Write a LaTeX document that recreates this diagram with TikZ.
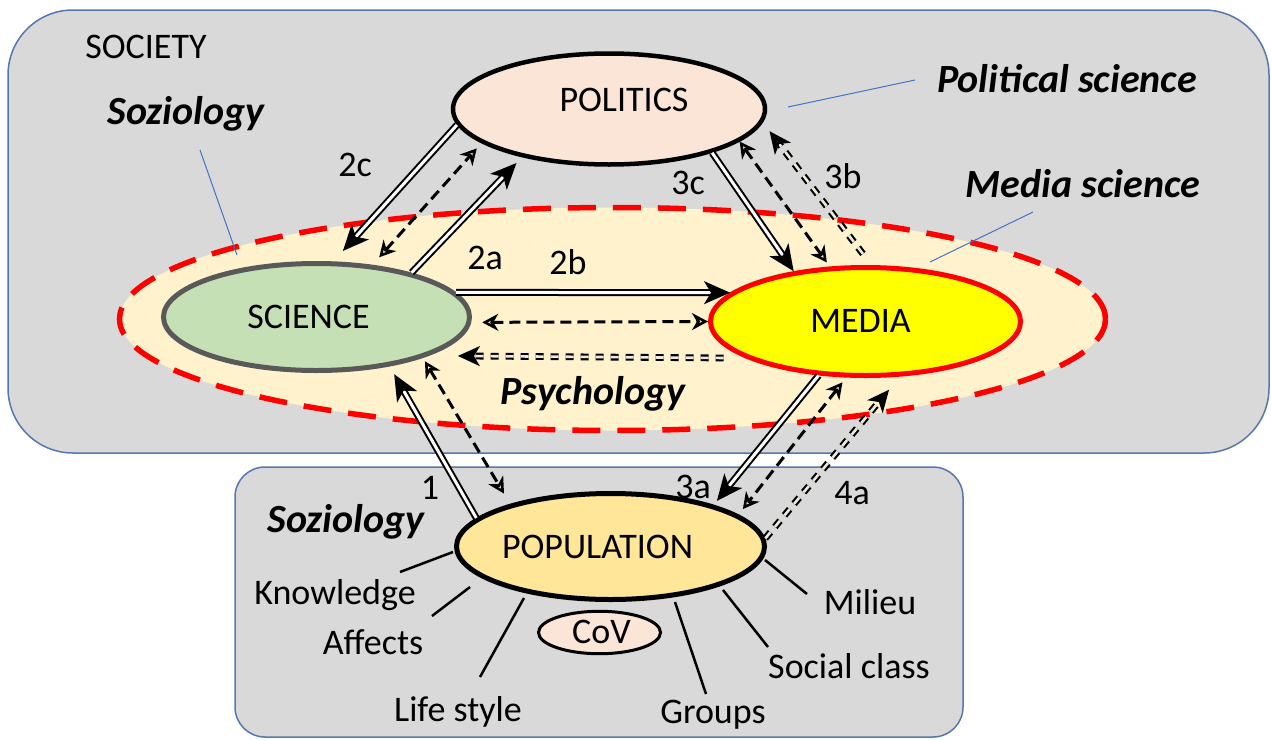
\documentclass[tikz,border=0pt]{standalone}
\usepackage{fontspec}
\setmainfont{Carlito}
\usetikzlibrary{shapes.geometric,arrows.meta}

\definecolor{boxgray}{HTML}{D9D9D9}
\definecolor{boxblue}{HTML}{5577B0}
\definecolor{zonefill}{HTML}{FFF2CC}
\definecolor{polfill}{HTML}{FBE5D6}
\definecolor{scifill}{HTML}{C5E0B4}
\definecolor{sciedge}{HTML}{595959}
\definecolor{popfill}{HTML}{FFE699}
\definecolor{pointer}{HTML}{4472C4}
\definecolor{pureyellow}{HTML}{FFFF00}
\definecolor{gapfill}{HTML}{EEEAE0}

\begin{document}
\begin{tikzpicture}[x=1pt,y=-1pt,
  every node/.style={font=\fontsize{36}{40}\selectfont, text height=26pt, text depth=4pt, inner sep=0pt},
  area/.style={draw=boxblue, line width=1.5pt, fill=boxgray},
  field/.style={font=\fontsize{40}{44}\selectfont\bfseries\itshape, text height=29pt, text depth=4pt},
  actor/.style={ellipse, line width=5pt, inner sep=0pt},
  solidarrow/.style={draw=black, line width=2pt, double=white, double distance=3pt,
    -{Stealth[length=26pt,width=23pt,inset=7pt]}},
  dasharrow/.style={draw=black, line width=3pt, dash pattern=on 11pt off 6pt,
    {Stealth[open,length=16pt,width=17pt,inset=5pt,line width=2.6pt]}-{Stealth[open,length=16pt,width=17pt,inset=5pt,line width=2.6pt]}},
  ddarrow/.style={draw=black, line width=2.1pt, double=gapfill, double distance=2.6pt,
    dash pattern=on 8pt off 7pt, -{Stealth[length=22pt,width=20pt,inset=6pt]}},
  spoke/.style={line width=2.5pt},
  pointerline/.style={draw=pointer, line width=1pt},
]
\useasboundingbox (0,0) rectangle (1271,739);

% the two frames
\draw[area, rounded corners=65pt] (8,10) rectangle (1269,453);
\draw[area, rounded corners=30pt] (235,467) rectangle (963,737);

% shared zone of science and media
\node[ellipse, draw=red, line width=5.5pt, dash pattern=on 28pt off 17pt, fill=zonefill,
      minimum width=986pt, minimum height=223pt] (zone) at (612.5,319) {};

% pointer lines for the discipline names
\coordinate (sozA) at (200,150);  \coordinate (sozB) at (237,255);
\coordinate (polA) at (788,107);  \coordinate (polB) at (915,80);
\coordinate (medA) at (930,262);  \coordinate (medB) at (1033,212);
\draw[pointerline] (sozA) -- (sozB);
\draw[pointerline] (polA) -- (polB);
\draw[pointerline] (medA) -- (medB);

% actors
\node[actor, line width=4.5pt, draw=black, fill=polfill, minimum width=312pt, minimum height=111pt,
      label={[name=poltext, xshift=15pt, yshift=9pt]center:POLITICS}] (pol) at (609,109) {};
\node[actor, draw=sciedge, fill=scifill, minimum width=306pt, minimum height=107pt,
      label={[name=scitext, xshift=-8pt]center:SCIENCE}] (sci) at (316.5,317) {};
\node[actor, draw=red, fill=pureyellow, minimum width=310pt, minimum height=108pt,
      label={[name=medtext, xshift=-5pt]center:MEDIA}] (med) at (865.5,321.5) {};
\node[actor, draw=black, fill=popfill, minimum width=308pt, minimum height=106pt,
      label={[name=poptext, xshift=-13pt, yshift=-1pt]center:POPULATION}] (pop) at (610.5,546.5) {};
\node[actor, line width=3pt, draw=black, fill=polfill, minimum width=122pt, minimum height=42pt,
      label={[name=covtext, xshift=2pt]center:CoV}] (cov) at (599.5,632.5) {};

% science <-> politics
\draw[solidarrow, shorten >=14pt] (pol.186) -- (sci.73);
\draw[dasharrow, shorten <=10pt, shorten >=7pt] (sci.43) -- (pol.195);
\draw[solidarrow, shorten >=8pt] (sci.25) -- (pol.209);
% science <-> media
\draw[solidarrow] (sci.10) -- (med.168);
\draw[dasharrow, shorten <=11pt] (sci.-2) -- (med.180);
\draw[ddarrow, shorten <=22pt, shorten >=29pt] (med.197) -- (sci.-19);
% politics <-> media
\draw[solidarrow] (pol.-23) -- (med.145);
\draw[dasharrow, shorten >=5pt] (pol.-14) -- (med.123);
\draw[ddarrow, shorten <=14pt, shorten >=11pt] (med.84) -- (pol.-5);
% population <-> science
\draw[solidarrow, shorten >=9pt] (pop.168) -- (sci.-34);
\draw[dasharrow, shorten <=4pt, shorten >=12pt] (sci.-21) -- (pop.157);
% population <-> media
\draw[solidarrow, shorten >=5pt] (med.229) -- (pop.22);
\draw[dasharrow, shorten <=6pt, shorten >=7pt] (med.251) -- (pop.14);
\draw[ddarrow, shorten >=17pt] (pop.3) -- (med.-58);

% arrow numbers
\node (n2c) at (355,165) {2c};
\node (n2a) at (485,258) {2a};
\node (n2b) at (568,263) {2b};
\node (n3c) at (688,183) {3c};
\node (n3b) at (843,177) {3b};
\node (n1)  at (430,488) {1};
\node (n3a) at (693,487) {3a};
\node (n4a) at (852,493) {4a};

% titles
\node (society) at (146,47) {SOCIETY};
\node[field] (soz1) at (186,112) {Soziology};
\node[field] (polsci) at (1067,80) {Political science};
\node[field] (medsci) at (1083,185) {Media science};
\node[field] (psych) at (593,392) {Psychology};
\node[field] (soz2) at (346,520) {Soziology};

% population features
\coordinate (k1) at (400,572); \coordinate (k2) at (453,552);
\coordinate (a1) at (432,616); \coordinate (a2) at (470,587);
\coordinate (l1) at (480,677); \coordinate (l2) at (524,598);
\coordinate (g1) at (706,694); \coordinate (g2) at (675,602);
\coordinate (s1) at (768,647); \coordinate (s2) at (723,590);
\coordinate (m1) at (807,594); \coordinate (m2) at (765,560);
\draw[spoke] (k1) -- (k2);
\draw[spoke] (a1) -- (a2);
\draw[spoke] (l1) -- (l2);
\draw[spoke] (g1) -- (g2);
\draw[spoke] (s1) -- (s2);
\draw[spoke] (m1) -- (m2);
\node (knowledge) at (335,593) {Knowledge};
\node (affects) at (373,643) {Affects};
\node (lifestyle) at (458,710) {Life style};
\node (groups) at (713,712) {Groups};
\node (socialclass) at (849,667) {Social class};
\node (milieu) at (870,603) {Milieu};
\end{tikzpicture}
\end{document}
